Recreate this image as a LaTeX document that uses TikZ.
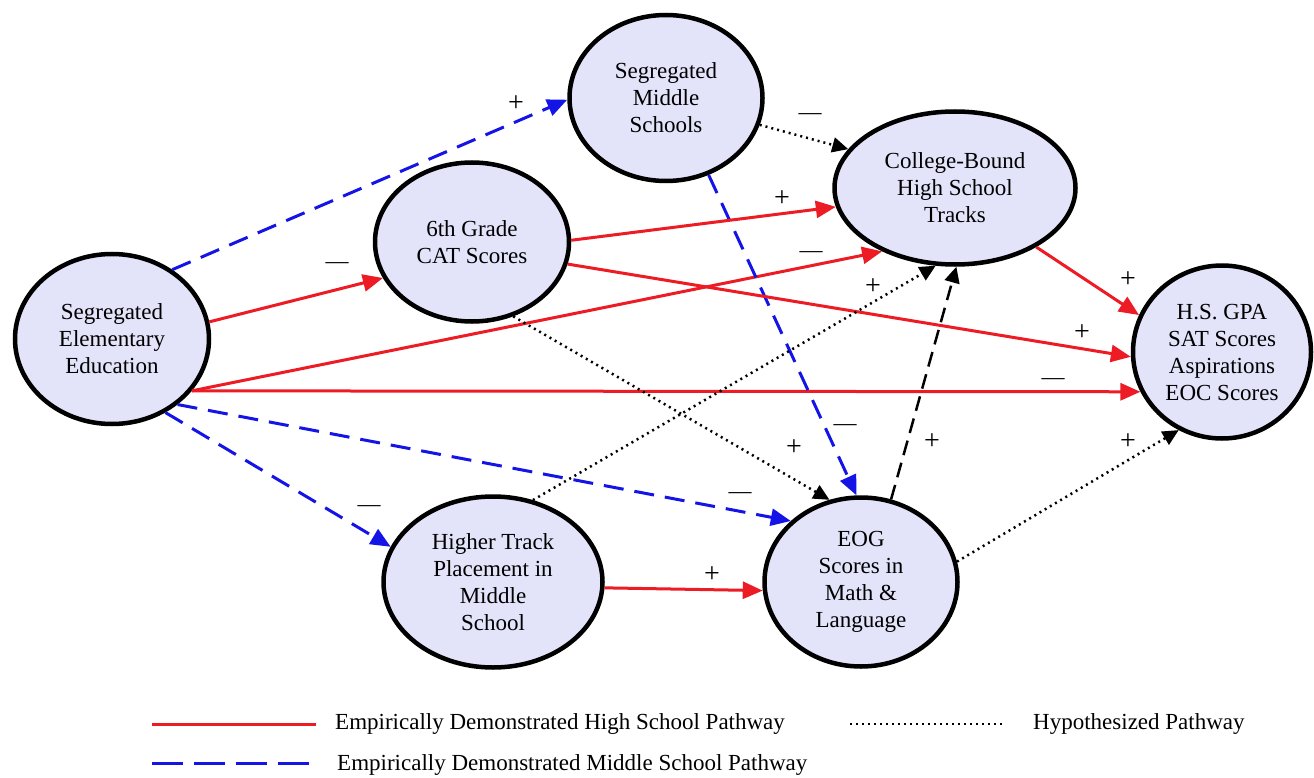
\documentclass[tikz,border=0pt]{standalone}
\usepackage{fontspec}
\setmainfont{Liberation Serif}
\usetikzlibrary{arrows.meta, shapes.geometric}

\definecolor{pathred}{RGB}{237,28,36}
\definecolor{pathblue}{RGB}{20,20,230}
\definecolor{factorfill}{RGB}{227,227,250}

\begin{document}
\begin{tikzpicture} [x=1pt, y=-1pt,
        factor/.style={ellipse, draw, line width=4.5pt, fill=factorfill, align=center,
            inner sep=0pt, font=\fontsize{23}{27}\selectfont},
        sign/.style={inner sep=0pt, font=\fontsize{28}{30}\selectfont},
        minus/.style={inner sep=0pt, font=\fontsize{23}{27}\selectfont},
        legtext/.style={anchor=west, inner sep=0pt, font=\fontsize{23}{27}\selectfont},
        hspath/.style={draw=pathred, line width=3pt, -{Triangle[length=20pt, width=17pt]}},
        mspath/.style={draw=pathblue, line width=3pt, dash pattern=on 20pt off 11pt,
            -{Triangle[length=20pt, width=17pt]}},
        hypopath/.style={draw=black, line width=2.5pt, dash pattern=on 2pt off 4pt,
            -{Triangle[length=16pt, width=15pt]}},
        linkpath/.style={draw=black, line width=2.5pt, dash pattern=on 15pt off 8pt,
            -{Triangle[length=16pt, width=15pt]}}]
    \useasboundingbox (0,0) rectangle (1314,778);

    % factors
    \node[factor, minimum width=194pt, minimum height=170pt] (elem) at (112,339)
        {Segregated\\Elementary\\Education};
    \node[factor, minimum width=193pt, minimum height=166pt] (midsch) at (666,98)
        {Segregated\\Middle\\Schools};
    \node[factor, minimum width=194pt, minimum height=159pt] (cat) at (472,242)
        {6th Grade\\CAT Scores};
    \node[factor, minimum width=241pt, minimum height=153pt] (tracks) at (955,188)
        {College-Bound\\High School\\Tracks};
    \node[factor, minimum width=178pt, minimum height=173pt] (outcomes) at (1222,352)
        {H.S. GPA\\SAT Scores\\Aspirations\\EOC Scores};
    \node[factor, minimum width=219pt, minimum height=171pt] (higher) at (493,582)
        {Higher Track\\Placement in\\Middle\\School};
    \node[factor, minimum width=193pt, minimum height=169pt] (eog) at (861,582)
        {EOG\\Scores in\\Math \&\\Language};

    % pathways
    \draw[mspath] (elem.49) -- (midsch.181);
    \draw[hspath] (elem.10) -- (cat.202);
    \draw[hspath] (elem.-33) -- (tracks.221);
    \draw[hspath] (elem.-33) -- (outcomes.206);
    \draw[mspath] (elem.-45) -- (eog.139);
    \draw[mspath] (elem.-54) -- (higher.161);
    \draw[hypopath] (midsch.-16) -- (tracks.160);
    \draw[mspath] (midsch.-61) -- (eog.93);
    \draw[hspath] (cat.1) -- (tracks.189);
    \draw[hspath] (cat.-13) -- (outcomes.183);
    \draw[hypopath] (cat.-61) -- (eog.111);
    \draw[hypopath] (higher.64) -- (tracks.256);
    \draw[hspath] (higher.-3) -- (eog.185);
    \draw[linkpath] (eog.70) -- (tracks.271);
    \draw[hypopath] (eog.12) -- (outcomes.241);
    \draw[hspath] (tracks.-36) -- (outcomes.156);

    % signs
    \node[sign] (elemmid) at (516,104) {+};
    \node[minus] (elemcat) at (337,266) {\textemdash};
    \node[minus] (elemtracks) at (811,255) {\textemdash};
    \node[minus] (elemout) at (1053,382) {\textemdash};
    \node[minus] (elemeog) at (740,496) {\textemdash};
    \node[minus] (elemhigher) at (369,509) {\textemdash};
    \node[minus] (midtracks) at (810,117) {\textemdash};
    \node[minus] (mideog) at (845,428) {\textemdash};
    \node[sign] (cattracks) at (782,199) {+};
    \node[sign] (catout) at (1082,333) {+};
    \node[sign] (cateog) at (794,448) {+};
    \node[sign] (highertracks) at (873,287) {+};
    \node[sign] (highereog) at (712,575) {+};
    \node[sign] (eogtracks) at (932,442) {+};
    \node[sign] (eogout) at (1128,442) {+};
    \node[sign] (tracksout) at (1128,280) {+};

    % legend
    \coordinate (hsA) at (152,724);
    \coordinate (hsB) at (316,724);
    \coordinate (msA) at (152,763);
    \coordinate (msB) at (316,763);
    \coordinate (hypA) at (850,724);
    \coordinate (hypB) at (1002,724);
    \draw[draw=pathred, line width=3pt] (hsA) -- (hsB);
    \draw[draw=pathblue, line width=3pt, dash pattern=on 31pt off 11pt] (msA) -- (msB);
    \draw[line width=2pt, dash pattern=on 2pt off 4pt] (hypA) -- (hypB);
    \node[legtext] (hstext) at (335,724) {Empirically Demonstrated High School Pathway};
    \node[legtext] (mstext) at (337,765) {Empirically Demonstrated Middle School Pathway};
    \node[legtext] (hyptext) at (1033,724) {Hypothesized Pathway};
\end{tikzpicture}
\end{document}
